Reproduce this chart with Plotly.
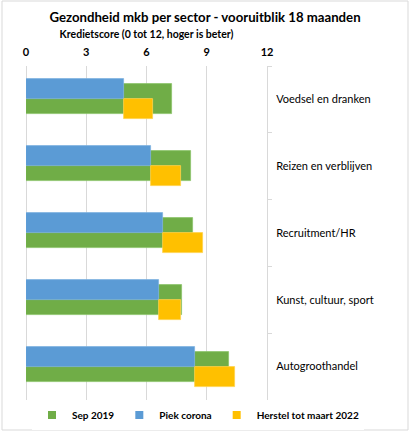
import plotly.graph_objects as go

categories = ["Voedsel en dranken", "Reizen en verblijven", "Recruitment/HR",
              "Kunst, cultuur, sport", "Autogroothandel"]
sep_2019 = [7.25, 8.2, 8.3, 7.75, 10.1]
piek_corona = [4.9, 6.2, 6.8, 6.6, 8.4]
herstel_2022 = [6.3, 7.7, 8.8, 7.7, 10.4]
series_names = ["Sep 2019", "Piek corona", "Herstel tot maart 2022"]
x_ticks = [0, 3, 6, 9, 12]

GREEN = "#70AD47"
BLUE = "#5B9BD5"
YELLOW = "#FFC000"
GRID = "#D9D9D9"
FONT = "Lato"

W, H = 410, 433
ML, MR, MT, MB = 26, 143, 66, 33
PW, PH = W - ML - MR, H - MT - MB

fig = go.Figure()
fig.add_trace(go.Bar(
    name=series_names[0], y=categories, x=sep_2019, orientation="h",
    offset=-0.225, width=0.45, showlegend=False,
    marker=dict(color=GREEN, line=dict(color="#8CC36A", width=0.8)),
))
fig.add_trace(go.Bar(
    name=series_names[1], y=categories, x=piek_corona, orientation="h",
    offset=-0.3, width=0.3, showlegend=False,
    marker=dict(color=BLUE, line=dict(color="#7FB2E0", width=0.8)),
))
fig.add_trace(go.Bar(
    name=series_names[2], y=categories,
    x=[h - p for h, p in zip(herstel_2022, piek_corona)], base=piek_corona,
    orientation="h", offset=0, width=0.3, showlegend=False,
    marker=dict(color=YELLOW, line=dict(color="#FFD24D", width=0.8)),
))
# legend entries with small square keys
for nm, col in zip(series_names, [GREEN, BLUE, YELLOW]):
    fig.add_trace(go.Scatter(
        x=[None], y=[None], mode="markers", name=f"<b>{nm}</b>",
        marker=dict(symbol="square", size=8, color=col), hoverinfo="skip",
    ))

fig.update_layout(
    width=W, height=H,
    margin=dict(l=ML, r=MR, t=MT, b=MB, autoexpand=False),
    barmode="overlay",
    plot_bgcolor="white", paper_bgcolor="white",
    font=dict(family=FONT, color="#000000"),
    title=dict(text="<b>Gezondheid mkb per sector - vooruitblik 18 maanden</b>",
               x=0.5, xref="container", xanchor="center",
               y=1 - 17 / H, yref="container", yanchor="middle",
               font=dict(size=13.2, family=FONT, color="#000000")),
    showlegend=True,
    legend=dict(orientation="h", xref="paper", x=(364 - ML) / PW, xanchor="right",
                yref="paper", y=(H - MB - 415) / PH, yanchor="middle",
                font=dict(size=10, family=FONT, color="#000000"),
                itemwidth=30, traceorder="normal"),
    bargap=0,
)
fig.update_xaxes(
    side="top", range=[0, 12], tickvals=x_ticks,
    ticktext=[f"<b>{v}</b>" for v in x_ticks],
    tickfont=dict(size=11, family=FONT, color="#000000"),
    showgrid=True, gridcolor=GRID, gridwidth=1,
    zeroline=True, zerolinecolor=GRID, zerolinewidth=1,
    showline=False, ticks="", fixedrange=True, ticklabelstandoff=7,
    title=dict(text="<b>Kredietscore (0 tot 12, hoger is beter)</b>",
               font=dict(size=10.5, family=FONT, color="#000000"), standoff=4),
)
fig.update_yaxes(
    side="right", autorange="reversed", type="category",
    showline=True, linecolor=GRID, linewidth=1,
    ticks="outside", tickson="boundaries", ticklen=4, tickcolor=GRID,
    showgrid=False, ticklabelstandoff=6,
    tickfont=dict(size=11, family=FONT, color="#000000"),
)
fig.add_shape(type="rect", xref="paper", yref="paper",
              x0=(2 - ML) / PW, x1=(408 - ML) / PW,
              y0=(H - MB - 430) / PH, y1=(H - MB - 1) / PH,
              line=dict(color=GRID, width=1), fillcolor="rgba(0,0,0,0)", layer="below")

fig.write_html("out.html", config={"displayModeBar": False},
               post_script="document.body.style.margin='0';document.body.style.overflow='hidden';")
